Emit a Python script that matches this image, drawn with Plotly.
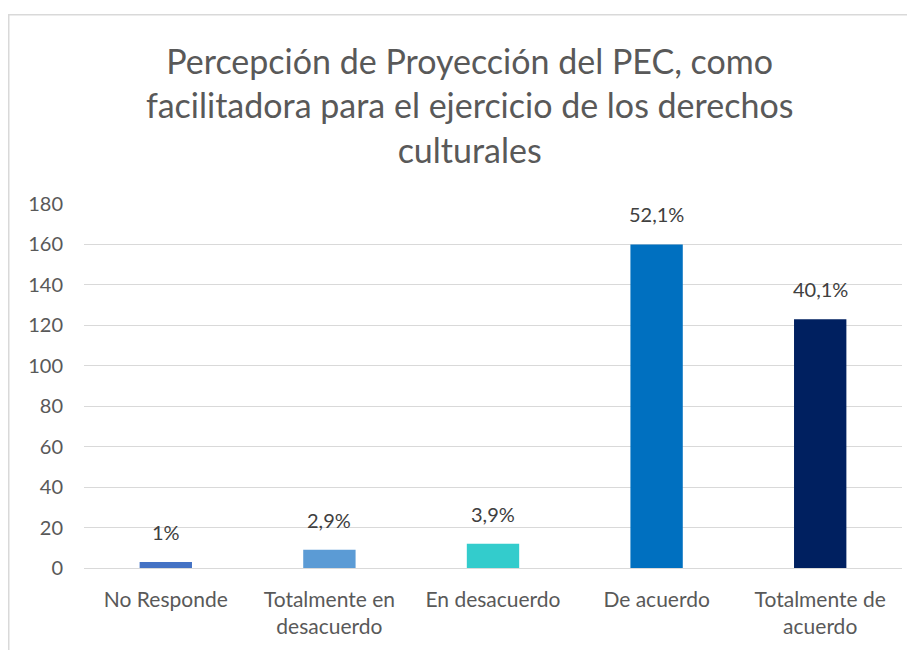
import plotly.graph_objects as go

categories = ["No Responde", "Totalmente en<br>desacuerdo", "En desacuerdo",
              "De acuerdo", "Totalmente de<br>acuerdo"]
counts = [3, 9, 12, 160, 123]
pct_labels = ["1%", "2,9%", "3,9%", "52,1%", "40,1%"]
bar_colors = ["#4472C4", "#5B9BD5", "#33CCCC", "#0070C0", "#002060"]
y_ticks = [0, 20, 40, 60, 80, 100, 120, 140, 160, 180]

font_name = "Lato"

fig = go.Figure()
fig.add_trace(go.Bar(
    x=categories,
    y=counts,
    marker=dict(color=bar_colors, line=dict(width=0)),
    width=0.32,
))

# percentage labels above the bars
for cat, val, lab in zip(categories, counts, pct_labels):
    fig.add_annotation(x=cat, y=val, text=lab, showarrow=False,
                       yanchor="bottom", yshift=16,
                       font=dict(size=20, color="#404040", family=font_name))

fig.update_layout(
    width=907, height=642,
    paper_bgcolor="white", plot_bgcolor="white",
    margin=dict(l=76, r=13, t=196, b=79),
    showlegend=False,
    title=dict(
        text="Percepción de Proyección del PEC, como<br>facilitadora para el ejercicio de los derechos<br>culturales",
        x=0.509, xanchor="center", xref="container",
        y=0.897, yanchor="top", yref="container",
        font=dict(size=34, color="#595959", family=font_name),
    ),
    font=dict(family=font_name, color="#595959"),
    shapes=[dict(type="rect", xref="paper", yref="paper",
                 x0=-0.092, x1=1.05, y0=-0.3, y1=1.52,
                 line=dict(color="#D9D9D9", width=1.5), layer="below")],
)

fig.update_xaxes(
    tickfont=dict(size=21, color="#595959"),
    showgrid=False, showline=False, ticks="",
    ticklabelstandoff=17,
)
fig.update_yaxes(
    range=[0, 180], tickvals=y_ticks,
    tickfont=dict(size=20, color="#595959"),
    gridcolor="#D9D9D9", gridwidth=1,
    zeroline=True, zerolinecolor="#D9D9D9", zerolinewidth=1,
    showline=False, ticks="", ticklabelstandoff=20,
)

fig.write_html("out.html")
